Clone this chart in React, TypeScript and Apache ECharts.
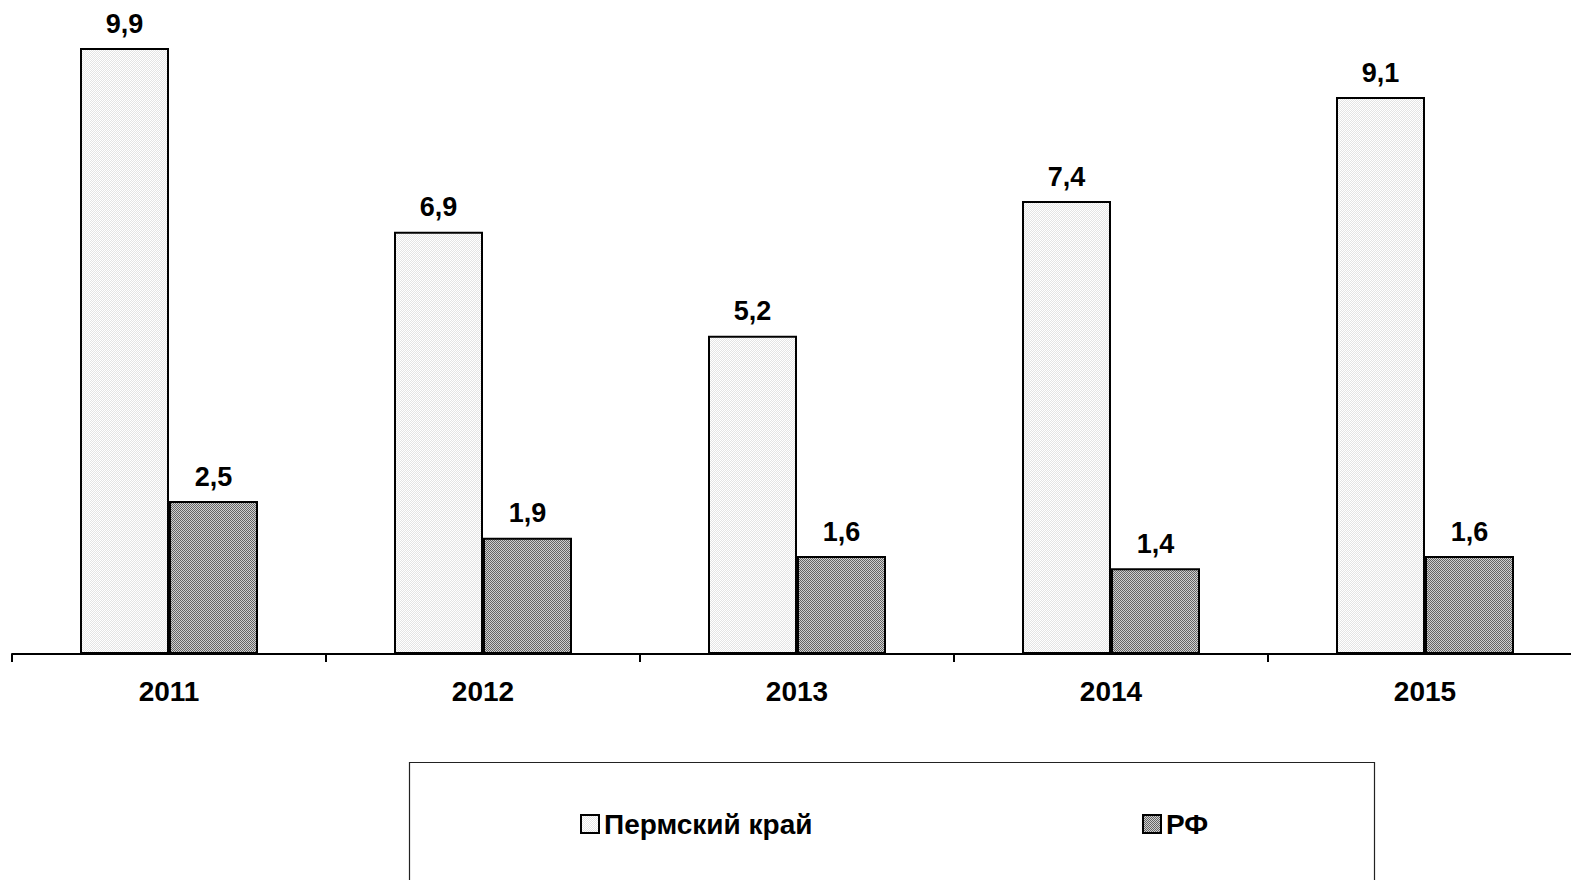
import React, { useEffect, useRef } from "react";
import * as echarts from "echarts";

const years = ["2011", "2012", "2013", "2014", "2015"];
const permValues = [9.9, 6.9, 5.2, 7.4, 9.1];
const rfValues = [2.5, 1.9, 1.6, 1.4, 1.6];
const seriesNames = ["Пермский край", "РФ"];

const FONT = '"Liberation Sans", Arial, sans-serif';

// Small checkered tile used as a hatch-like fill for the bars
function makeTile(a: string, b: string): HTMLCanvasElement {
  const c = document.createElement("canvas");
  c.width = 4;
  c.height = 4;
  const ctx = c.getContext("2d")!;
  for (let y = 0; y < 4; y++) {
    for (let x = 0; x < 4; x++) {
      ctx.fillStyle = (x + y) % 2 === 0 ? a : b;
      ctx.fillRect(x, y, 1, 1);
    }
  }
  return c;
}

const fmt = (v: number) => v.toFixed(1).replace(".", ",");

export default function App() {
  const ref = useRef<HTMLDivElement>(null);

  useEffect(() => {
    if (!ref.current) return;
    const chart = echarts.init(ref.current, undefined, { renderer: "svg" });
    const lightTile = makeTile("#ffffff", "#e4e4e4");
    const darkTile = makeTile("#646464", "#d0d0d0");

    const label = {
      show: true,
      position: "top" as const,
      distance: 11,
      fontFamily: FONT,
      fontWeight: "bold" as const,
      fontSize: 27,
      color: "#000",
      formatter: (p: any) => fmt(p.value),
    };

    const legendText = { fontFamily: FONT, fontWeight: "bold", fontSize: 28, color: "#000" };

    chart.setOption({
      animation: false,
      backgroundColor: "#ffffff",
      grid: {
        left: 12,
        width: 1570,
        top: 42,
        bottom: 226,
        containLabel: false,
        outerBoundsMode: "none",
      },
      xAxis: {
        type: "category",
        data: years,
        axisLine: { lineStyle: { color: "#000", width: 2 } },
        axisTick: { show: true, length: 8, lineStyle: { color: "#000", width: 2 } },
        axisLabel: {
          margin: 23,
          fontFamily: FONT,
          fontWeight: "bold",
          fontSize: 28,
          color: "#000",
        },
      },
      yAxis: {
        type: "value",
        min: 0,
        max: 10,
        show: false,
        splitLine: { show: false },
      },
      legend: [
        {
          data: [seriesNames[0]],
          left: 580,
          top: 810,
          padding: 0,
          icon: "rect",
          itemWidth: 18,
          itemHeight: 18,
          itemGap: 6,
          textStyle: legendText,
        },
        {
          data: [seriesNames[1]],
          left: 1142,
          top: 810,
          padding: 0,
          icon: "rect",
          itemWidth: 18,
          itemHeight: 18,
          itemGap: 6,
          textStyle: legendText,
        },
      ],
      graphic: [
        {
          type: "rect",
          shape: { x: 409.5, y: 762.5, width: 965, height: 200 },
          style: { fill: "none", stroke: "#222", lineWidth: 1.2 },
          silent: true,
        },
      ],
      series: [
        {
          name: seriesNames[0],
          type: "bar",
          data: permValues,
          barWidth: 89,
          barGap: "0%",
          itemStyle: {
            color: { image: lightTile, repeat: "repeat" },
            borderColor: "#000",
            borderWidth: 2,
          },
          label,
        },
        {
          name: seriesNames[1],
          type: "bar",
          data: rfValues,
          barWidth: 89,
          barGap: "0%",
          itemStyle: {
            color: { image: darkTile, repeat: "repeat" },
            borderColor: "#000",
            borderWidth: 2,
          },
          label,
        },
      ],
    });

    return () => chart.dispose();
  }, []);

  return (
    <div
      ref={ref}
      style={{ position: "fixed", left: 0, top: 0, width: 1571, height: 880, background: "#fff" }}
    />
  );
}
